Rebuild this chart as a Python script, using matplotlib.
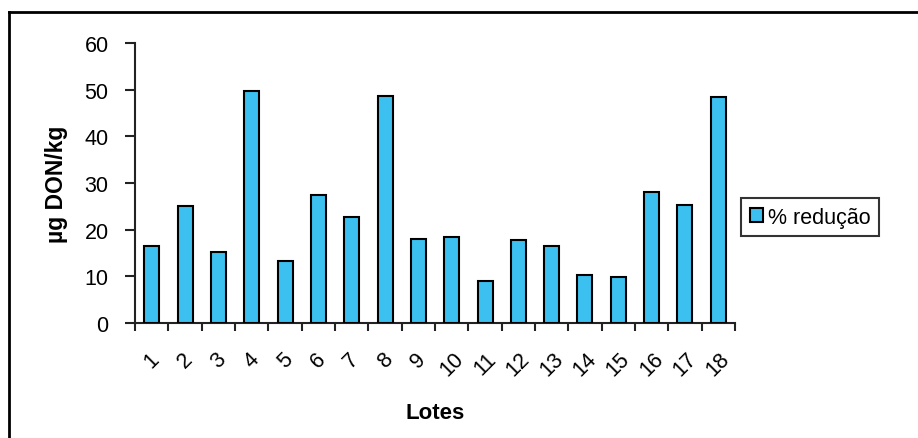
import matplotlib
matplotlib.use("Agg")
import matplotlib.pyplot as plt
from matplotlib.lines import Line2D

# data
lotes = [str(i) for i in range(1, 19)]
reducao = [16.5, 25.0, 15.2, 49.7, 13.3, 27.4, 22.7, 48.7, 18.0,
           18.5, 9.1, 17.8, 16.6, 10.3, 9.9, 28.0, 25.3, 48.5]
yticks = [0, 10, 20, 30, 40, 50, 60]

plt.rcParams['font.family'] = ['Liberation Sans', 'DejaVu Sans']

fig = plt.figure(figsize=(9.18, 4.39), dpi=100)
ax = fig.add_axes([135/918, 1 - 324/439, 600/918, 280/439])

pos = list(range(len(lotes)))
ax.bar(pos, reducao, width=0.45, color='#3cc0f0', edgecolor='black',
       linewidth=1.5, label='% redução', zorder=3)

ax.set_xlim(-0.5, len(lotes) - 0.5)
ax.set_ylim(0, 60)
ax.set_yticks(yticks)
ax.set_xticks(pos)
ax.set_xticklabels(lotes, rotation=45, ha='center')
ax.set_xticks([p - 0.5 for p in pos] + [len(lotes) - 0.5], minor=True)

ax.tick_params(axis='x', which='major', length=0, pad=18, labelsize=15.5)
ax.tick_params(axis='x', which='minor', length=6, width=1.5, color='#222222')
ax.tick_params(axis='y', length=7, width=1.5, pad=12, labelsize=15.5, color='#222222')

for s in ['top', 'right']:
    ax.spines[s].set_visible(False)
for s in ['left', 'bottom']:
    ax.spines[s].set_linewidth(1.5)
    ax.spines[s].set_color('#222222')

ax.set_ylabel('µg DON/kg', fontsize=16.5, fontweight='bold', labelpad=12)
ax.set_xlabel('Lotes', fontsize=16, fontweight='bold', labelpad=16)

leg = ax.legend(loc='upper left', bbox_to_anchor=(741/918, 1 - 199/439),
                bbox_transform=fig.transFigure, fontsize=15.5, fancybox=False,
                frameon=True, handlelength=0.6, handleheight=0.6,
                handletextpad=0.25, borderpad=0.4, borderaxespad=0)
leg.get_frame().set_edgecolor('black')
leg.get_frame().set_linewidth(1.5)

# outer frame of the original figure (right and bottom fall outside)
fig.add_artist(Line2D([9/918, 9/918], [0, 1 - 13/439], color='black', lw=2,
                      transform=fig.transFigure))
fig.add_artist(Line2D([9/918, 1], [1 - 13/439, 1 - 13/439], color='black', lw=2,
                      transform=fig.transFigure))

fig.savefig('out.png', dpi=100)
